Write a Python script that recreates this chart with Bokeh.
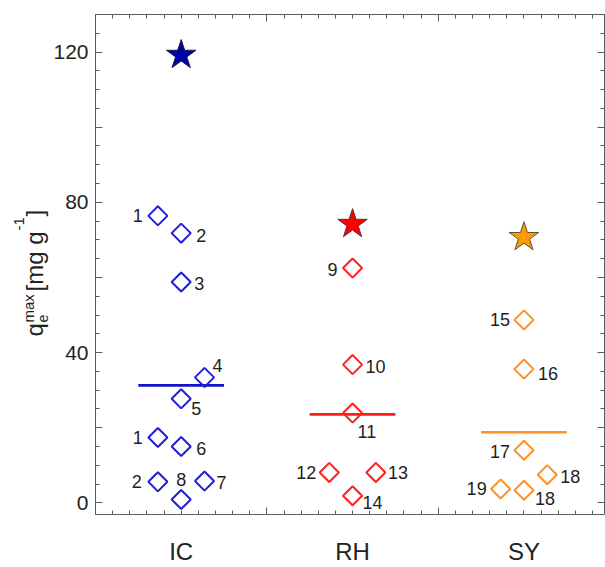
import math

from bokeh.core.properties import value
from bokeh.embed import file_html
from bokeh.layouts import row
from bokeh.models import ColumnDataSource, FixedTicker, Label, LinearAxis, Range1d
from bokeh.plotting import figure
from bokeh.resources import INLINE

# ---------------------------------------------------------------- data
categories = ["IC", "RH", "SY"]

# maximum adsorption capacity of the single sorbents, mg/g
ic_qmax = [76.4, 71.8, 58.8, 33.4, 27.7, 17.4, 15.0, 5.6, 5.8, 0.9]
ic_refs = ["1", "2", "3", "4", "5", "1", "6", "2", "7", "8"]
ic_slot = [-1, 0, 0, 1, 0, -1, 0, -1, 1, 0]

rh_qmax = [62.5, 36.8, 23.9, 8.1, 8.1, 1.9]
rh_refs = ["9", "10", "11", "12", "13", "14"]
rh_slot = [0, 0, 0, -1, 1, 0]

sy_qmax = [48.7, 35.6, 14.0, 7.5, 3.7, 3.35]
sy_refs = ["15", "16", "17", "18", "19", "18"]
sy_slot = [0, 0, 0, 1, -1, 0]

# best value reached by each sorbent family (stars)
star_qmax = [119.2, 74.2, 70.7]

y_major = [0, 20, 40, 60, 80, 100, 120]
y_labelled = [0, 40, 80, 120]

# ---------------------------------------------------------------- styles
W, H = 605, 567
TITLE_W = 50
FRAME_L, FRAME_B = 95, 515
FONT = "Liberation Sans"
AXIS_COL = "#5a5a5a"
TEXT_COL = "#222222"
SLOT_W = 0.136

colors = {
    "IC": dict(marker="#1f1fd8", line="#1212c8", star="#0000a8", star_line="#1a1a40"),
    "RH": dict(marker="#ff1f1f", line="#ff1a1a", star="#ff0000", star_line="#5a3030"),
    "SY": dict(marker="#ff8f26", line="#ff9124", star="#ff9900", star_line="#5a5040"),
}

# (align, dx, dy) for each number tag, screen px (dy > 0 moves down)
tag_style = {
    "IC": [("right", -15, 0), ("left", 15, 2), ("left", 13, 2), ("left", 8, -12),
           ("left", 10, 10), ("right", -15, 0), ("left", 15, 2), ("right", -16, 0),
           ("left", 12, 1), ("center", 0, -20)],
    "RH": [("right", -15, 1), ("left", 13, 2), ("left", 5, 18), ("right", -13, 0),
           ("left", 12, 0), ("left", 10, 7)],
    "SY": [("right", -14, 0), ("left", 14, 4), ("right", -14, 1), ("left", 13, 2),
           ("right", -14, 0), ("left", 11, 8)],
}

p = figure(
    width=W - TITLE_W, height=H,
    x_range=Range1d(0.5, 3.47), y_range=Range1d(-3.1, 130),
    x_axis_location=None, y_axis_location=None,
    toolbar_location=None, output_backend="svg",
    min_border_left=FRAME_L - TITLE_W, min_border_right=1,
    min_border_top=14, min_border_bottom=H - FRAME_B,
    background_fill_color="white", border_fill_color="white",
)
p.outline_line_color = None
p.xgrid.visible = False
p.ygrid.visible = False

groups = [("IC", ic_qmax, ic_refs, ic_slot),
          ("RH", rh_qmax, rh_refs, rh_slot),
          ("SY", sy_qmax, sy_refs, sy_slot)]

for pos, (name, q, refs, slot) in enumerate(groups, start=1):
    c = colors[name]
    xs = [pos + s * SLOT_W for s in slot]
    st = tag_style[name]
    src = ColumnDataSource(dict(
        x=xs, y=q, ref=refs,
        align=[s[0] for s in st], dx=[s[1] for s in st], dy=[s[2] for s in st],
    ))
    # mean of the family
    mean_q = sum(q) / len(q)
    p.segment(x0=[pos - 0.25], x1=[pos + 0.25], y0=[mean_q], y1=[mean_q],
              line_color=c["line"], line_width=2.6)
    p.scatter(x="x", y="y", source=src, marker="square", angle=math.pi / 4,
              size=13.5, fill_color=None, line_color=c["marker"], line_width=2)
    p.text(x="x", y="y", text="ref", source=src, text_align="align",
           x_offset="dx", y_offset="dy", text_baseline="middle",
           text_font=value(FONT), text_font_size="18px", text_color="#1e1e1e")
    p.scatter(x=[pos], y=[star_qmax[pos - 1]], marker="star", size=31,
              fill_color=c["star"], line_color=c["star_line"], line_width=1)

# ---------------------------------------------------------------- axes
x_minor = [round(0.5 + 0.1 * i, 2) for i in range(31)]
x_ticker = FixedTicker(ticks=[0.5, 1.5, 2.5, 3.5], minor_ticks=x_minor)
y_minor = list(range(0, 131, 5))
y_ticker = FixedTicker(ticks=y_major, minor_ticks=y_minor)

tick_style = dict(
    axis_line_color=AXIS_COL, axis_line_width=1,
    major_tick_line_color=AXIS_COL, minor_tick_line_color=AXIS_COL,
    major_tick_in=7, major_tick_out=0, minor_tick_in=4, minor_tick_out=0,
)
blank = dict(major_label_text_font_size="0px", major_label_standoff=0)


def empty_overrides(ticks):
    return {t: "" for t in ticks}


left = LinearAxis(ticker=y_ticker, major_label_standoff=7,
                  major_label_overrides={t: "" for t in y_major if t not in y_labelled},
                  major_label_text_font=FONT, major_label_text_font_size="21px",
                  major_label_text_color=TEXT_COL, **tick_style)
right = LinearAxis(ticker=y_ticker, major_label_overrides=empty_overrides(y_major),
                   **blank, **tick_style)
top = LinearAxis(ticker=x_ticker, major_label_overrides=empty_overrides([0.5, 1.5, 2.5, 3.5]),
                 **blank, **tick_style)
bottom = LinearAxis(ticker=x_ticker, major_label_overrides=empty_overrides([0.5, 1.5, 2.5, 3.5]),
                    **blank, **tick_style)
cat_axis = LinearAxis(
    ticker=FixedTicker(ticks=[1, 2, 3], minor_ticks=[]),
    major_label_overrides={i + 1: c for i, c in enumerate(categories)},
    axis_line_color=None, major_tick_line_color=None, minor_tick_line_color=None,
    major_tick_in=0, major_tick_out=0,
    major_label_standoff=23, major_label_text_font=FONT,
    major_label_text_font_size="24px", major_label_text_color=TEXT_COL,
)
p.add_layout(left, "left")
p.add_layout(right, "right")
p.add_layout(top, "above")
p.add_layout(bottom, "below")
p.add_layout(cat_axis, "below")

# ---------------------------------------------------------------- y title strip
# narrow companion figure that carries the rotated axis title;
# its frame lines up with the main frame (top 14 px, bottom FRAME_B)
t = figure(
    width=TITLE_W, height=H, x_range=Range1d(0, 1), y_range=Range1d(0, 1),
    x_axis_location=None, y_axis_location=None,
    toolbar_location=None, output_backend="svg",
    min_border=0, background_fill_color="white", border_fill_color="white",
)
t.outline_line_color = None
t.xgrid.visible = False
t.ygrid.visible = False

# pieces of  q_e^max [mg g^-1]; (text, x of baseline, y of start from top, size)
title_parts = [
    ("q", 34, 337, 24),
    ("e", 42, 323, 14),
    ("max", 28, 323, 15),
    ("[mg g", 34, 292, 24),
    ("-1", 18, 231, 15),
    ("]", 34, 217, 24),
]
for txt, bx, by, fs in title_parts:
    t.add_layout(Label(
        x=bx, y=FRAME_B - by, x_units="screen", y_units="screen",
        text=txt, angle=math.pi / 2, text_align="left", text_baseline="alphabetic",
        text_font=FONT, text_font_size=f"{fs}px", text_color=TEXT_COL,
    ))

layout = row(t, p, spacing=0)
open("out.html", "w").write(file_html(layout, INLINE))
